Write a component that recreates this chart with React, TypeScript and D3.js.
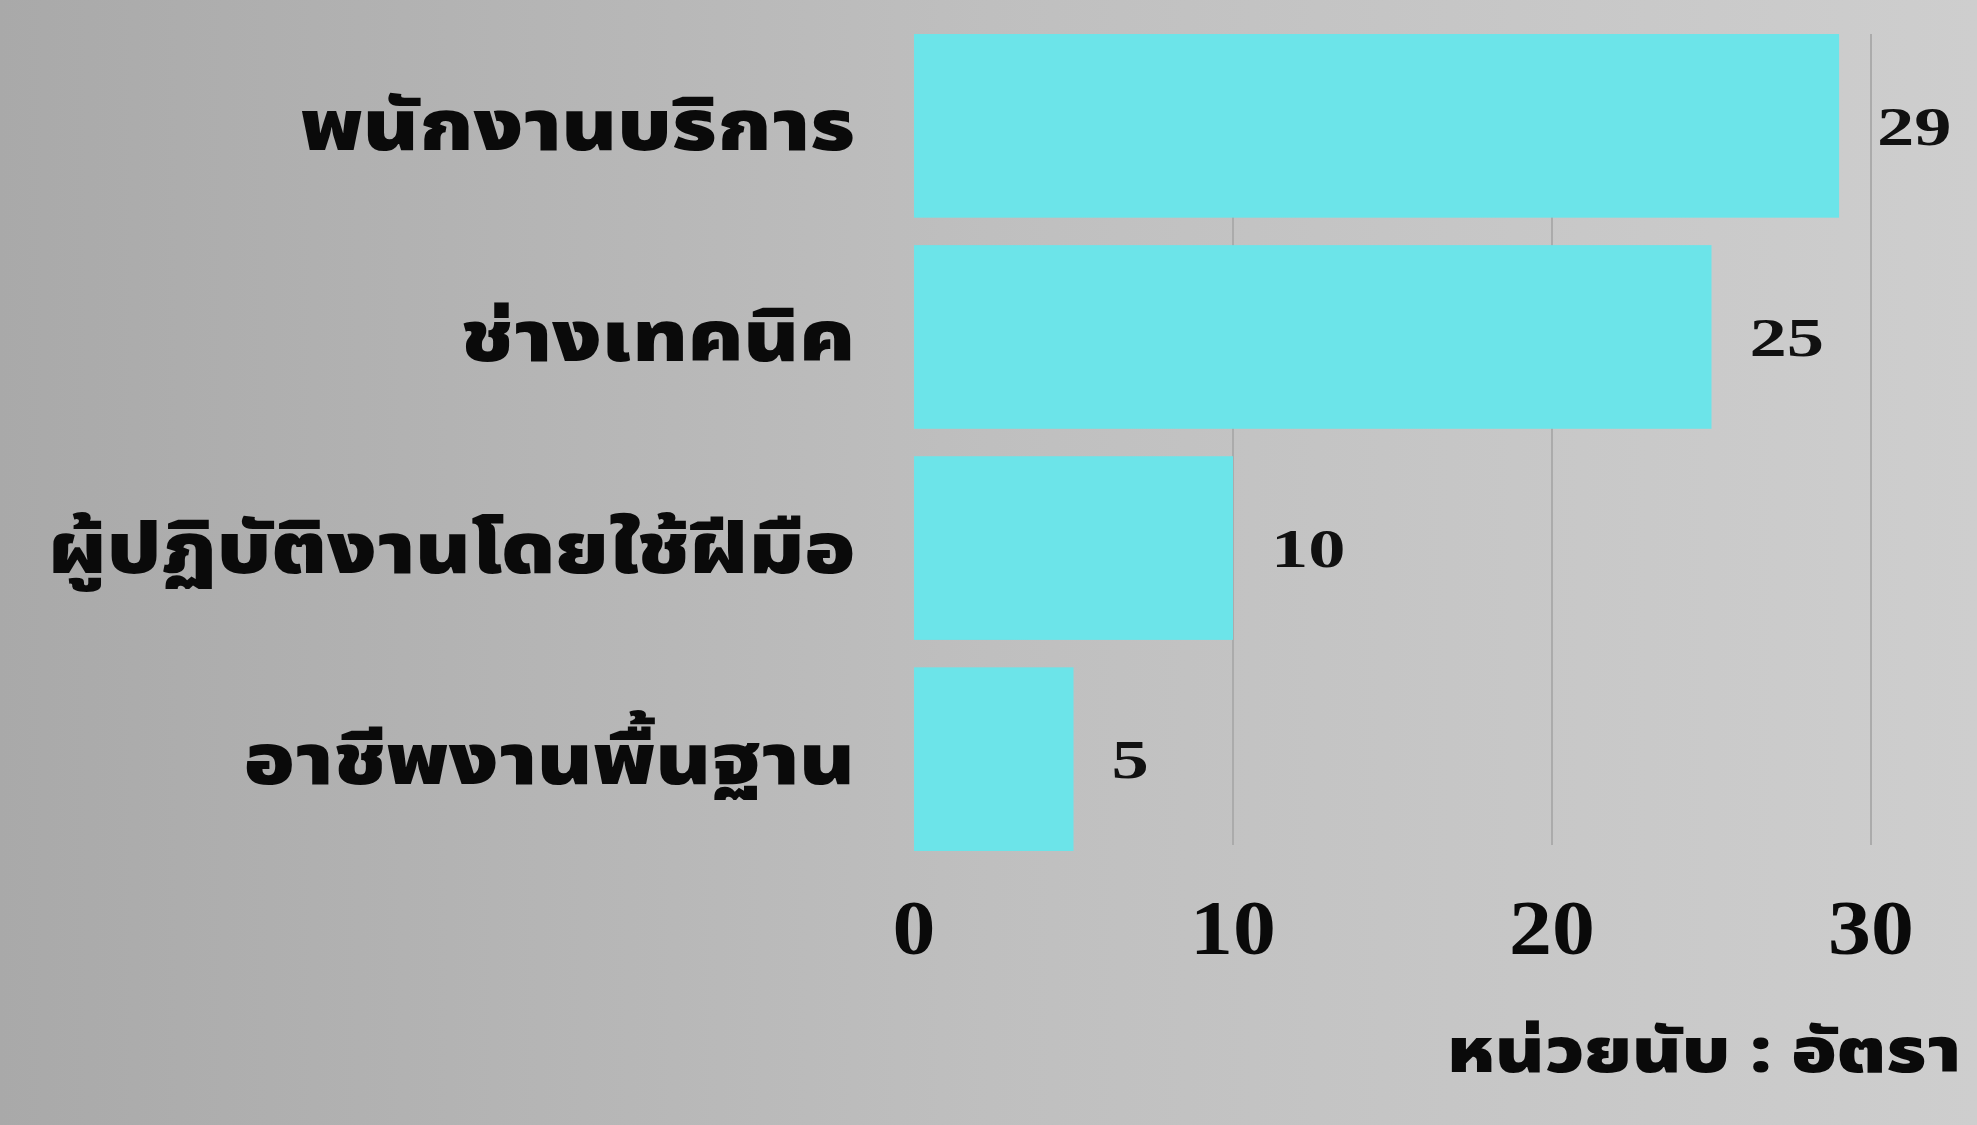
import React from "react";
import * as d3 from "d3";

const categories: string[] = ["พนักงานบริการ", "ช่างเทคนิค", "ผู้ปฏิบัติงานโดยใช้ฝีมือ", "อาชีพงานพื้นฐาน"];
const values: number[] = [29, 25, 10, 5];
const xTicks: number[] = [0, 10, 20, 30];
const unitLabel = "หน่วยนับ : อัตรา";

const W = 1977;
const H = 1125;
const THAI_FONT = "'Noto Sans Thai', 'Noto Serif Thai', 'Loma', 'Garuda', 'Noto Sans', sans-serif";
const NUM_FONT = "'Liberation Serif', 'DejaVu Serif', serif";

export default function App() {
  const x = d3.scaleLinear().domain([0, 30]).range([914, 1871]);
  const y = d3.scaleBand<string>().domain(categories).range([34, 851]).paddingInner(0.13).paddingOuter(0);
  const bw = y.bandwidth();

  return (
    <svg width={W} height={H} style={{ position: "absolute", left: 0, top: 0 }}>
      <defs>
        <linearGradient id="bg" x1="0" x2="1" y1="0" y2="0">
          <stop offset="0" stopColor="#a9a9a9" />
          <stop offset="0.5" stopColor="#bfbfbf" />
          <stop offset="1" stopColor="#cecece" />
        </linearGradient>
      </defs>
      <rect x={0} y={0} width={W} height={H} fill="url(#bg)" />
      {/* gridlines */}
      {xTicks.filter((t) => t > 0).map((t) => (
        <line key={t} x1={x(t)} x2={x(t)} y1={34} y2={845} stroke="#ababab" strokeWidth={2} />
      ))}
      {/* bars */}
      {categories.map((c, i) => (
        <rect key={c} x={x(0)} y={y(c)!} width={x(values[i]) - x(0)} height={bw} fill="#6ce4e9" />
      ))}
      {/* value labels */}
      {categories.map((c, i) => (
        <g key={c + "v"} transform={`translate(${x(values[i]) + 38},${y(c)! + bw / 2}) scale(1.38,1)`}>
          <text dy="0.35em" fontFamily={NUM_FONT} fontWeight="bold" fontSize={54} fill="#111">
            {values[i]}
          </text>
        </g>
      ))}
      {/* category labels */}
      {categories.map((c) => (
        <g key={c + "l"} transform={`translate(855,${y(c)! + bw / 2}) scale(1.2,1)`}>
          <text dy="0.35em" textAnchor="end" fontFamily={THAI_FONT} fontWeight="900" fontSize={70} fill="#0a0a0a">
            {c}
          </text>
        </g>
      ))}
      {/* x tick labels */}
      {xTicks.map((t) => (
        <g key={"t" + t} transform={`translate(${x(t)},927) scale(1.1,1)`}>
          <text dy="0.35em" textAnchor="middle" fontFamily={NUM_FONT} fontWeight="bold" fontSize={78} fill="#0a0a0a">
            {t}
          </text>
        </g>
      ))}
      <g transform="translate(1961,1050) scale(1.21,1)">
        <text dy="0.35em" textAnchor="end" fontFamily={THAI_FONT} fontWeight="900" fontSize={62} fill="#0a0a0a">
          {unitLabel}
        </text>
      </g>
    </svg>
  );
}
